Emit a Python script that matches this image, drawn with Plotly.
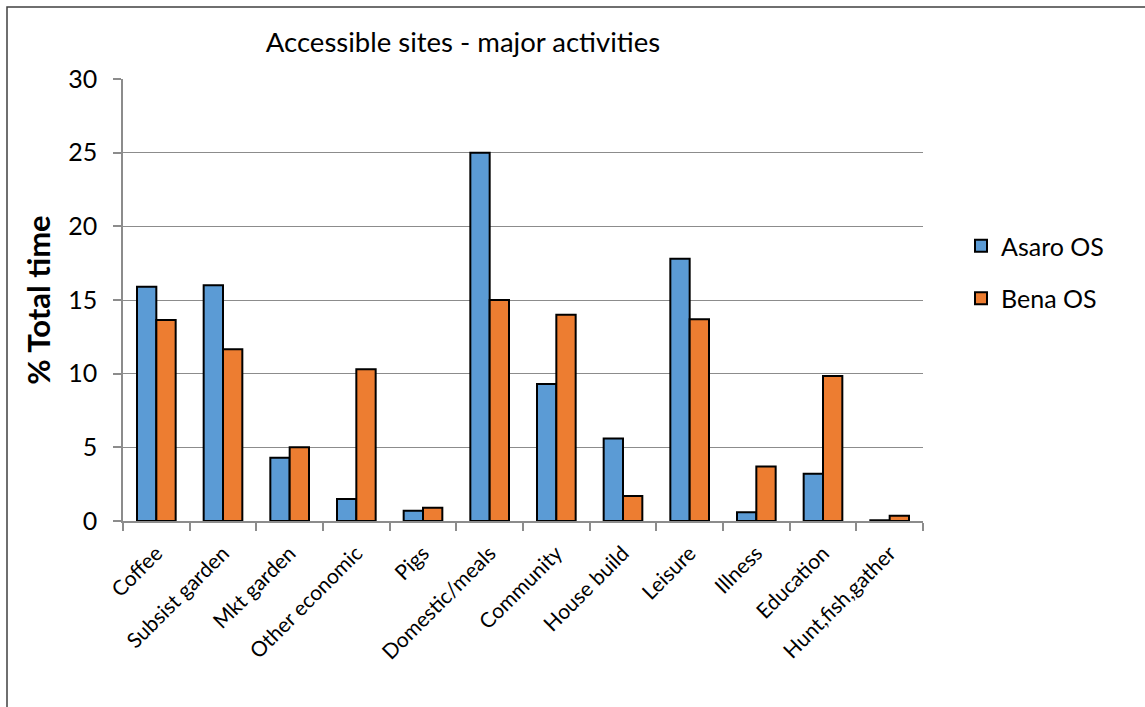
import plotly.graph_objects as go

categories = ["Coffee", "Subsist garden", "Mkt garden", "Other economic", "Pigs",
              "Domestic/meals", "Community", "House build", "Leisure", "Illness",
              "Education", "Hunt,fish,gather"]
asaro = [15.9, 16.0, 4.3, 1.5, 0.7, 25.0, 9.3, 5.6, 17.8, 0.6, 3.2, 0.05]
bena = [13.65, 11.65, 5.0, 10.3, 0.9, 15.0, 14.0, 1.7, 13.7, 3.7, 9.85, 0.35]
y_ticks = [0, 5, 10, 15, 20, 25, 30]

FONT = "Lato, Open Sans, sans-serif"
GRID = "#8c8c8c"

fig = go.Figure()
fig.add_trace(go.Bar(x=categories, y=asaro, name="Asaro OS", legendgroup="a",
                     marker=dict(color="#5b9bd5", line=dict(color="black", width=2))))
fig.add_trace(go.Bar(x=categories, y=bena, name="Bena OS", legendgroup="b",
                     marker=dict(color="#ed7d31", line=dict(color="black", width=2))))

L, R, T, B = 123, 923, 79, 521
W, H = 1145, 707

fig.update_layout(
    width=W, height=H,
    margin=dict(l=L, r=W - R, t=T, b=H - B),
    paper_bgcolor="white", plot_bgcolor="white",
    barmode="group", bargap=0.42, bargroupgap=0,
    font=dict(family=FONT, color="black"),
    title=dict(text="Accessible sites - major activities", font=dict(size=27.5, family=FONT),
               xref="paper", x=(463 - L) / (R - L), xanchor="center",
               yref="container", y=1 - 42 / H, yanchor="middle"),
    legend=dict(x=(961 - L) / (R - L), xanchor="left", y=(B - 272) / (B - T), yanchor="middle",
                font=dict(size=25, family=FONT), traceorder="grouped", tracegroupgap=17,
                bgcolor="rgba(0,0,0,0)"),
    xaxis=dict(showline=True, linecolor=GRID, linewidth=1.5, ticks="outside", tickson="boundaries",
               ticklen=8, tickcolor=GRID, tickwidth=1.5, tickangle=-45,
               ticklabelstandoff=10,
               tickfont=dict(size=21, family=FONT), showgrid=False),
    yaxis=dict(range=[0, 30], tickvals=y_ticks, showline=True, linecolor=GRID, linewidth=1.5,
               ticks="outside", ticklen=8, tickcolor=GRID, tickwidth=1.5,
               gridcolor=GRID, gridwidth=1.2, zeroline=False,
               ticklabelstandoff=11,
               tickfont=dict(size=25, family=FONT),
               title=dict(text="<b>% Total time</b>", font=dict(size=31, family=FONT), standoff=8)),
    shapes=[dict(type="rect", xref="paper", yref="paper",
                 x0=(7 - L) / (R - L), x1=(W + 20 - L) / (R - L),
                 y0=(B - (H + 20)) / (B - T), y1=(B - 7) / (B - T),
                 line=dict(color="#404040", width=1.5), fillcolor="rgba(0,0,0,0)", layer="below")],
)

fig.write_html("out.html")
